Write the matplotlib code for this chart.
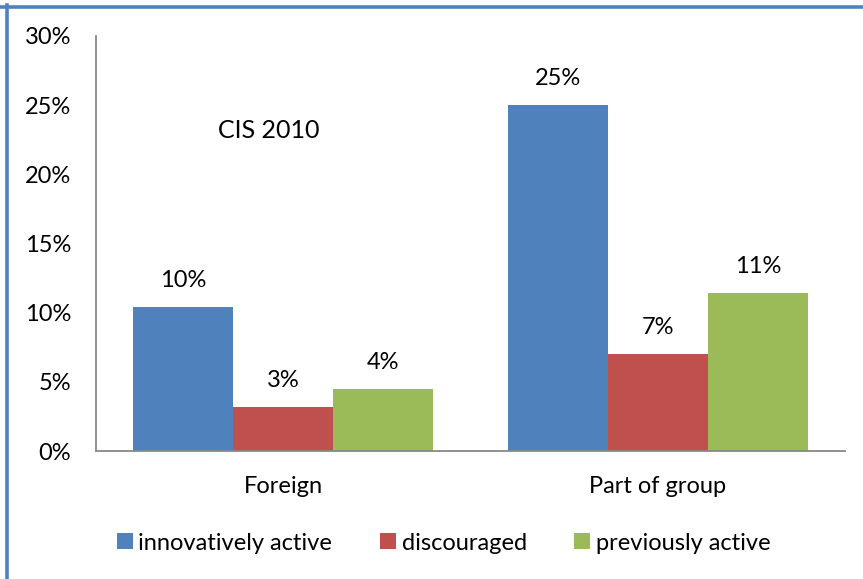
import matplotlib
matplotlib.use("Agg")
import matplotlib.pyplot as plt
from matplotlib.lines import Line2D
from matplotlib.patches import Patch
import numpy as np

plt.rcParams['font.family'] = ['Lato', 'DejaVu Sans']

categories = ["Foreign", "Part of group"]
series_names = ["innovatively active", "discouraged", "previously active"]
innovatively_active = [10.4, 25.0]
discouraged = [3.2, 7.0]
previously_active = [4.5, 11.4]
yticks = [0, 5, 10, 15, 20, 25, 30]
colors = ["#4F81BD", "#C0504D", "#9BBB59"]

W, H = 863, 579
fig = plt.figure(figsize=(W / 100, H / 100), dpi=100)
ax = fig.add_axes([96 / W, (H - 451) / H, (845 - 96) / W, (451 - 36) / H])

x = np.arange(len(categories))
bw = 0.267
for i, (vals, col) in enumerate(zip([innovatively_active, discouraged, previously_active], colors)):
    pos = x + (i - 1) * bw
    ax.bar(pos, vals, width=bw, color=col, edgecolor="none", zorder=2)
    for px, v in zip(pos, vals):
        ax.annotate(f"{v:.0f}%", (px, v), xytext=(0, 14.4), textcoords="offset points",
                    ha="center", va="baseline", fontsize=17, color="black")

ax.set_xlim(-0.5, 1.5)
ax.set_ylim(0, 30)
ax.set_yticks(yticks)
ax.set_yticklabels([f"{t}%" for t in yticks], fontsize=17)
ax.set_xticks(x)
ax.set_xticklabels(categories, fontsize=17)
ax.tick_params(axis="both", length=0)
ax.tick_params(axis="y", pad=18)
ax.tick_params(axis="x", pad=18)
for s in ["top", "right"]:
    ax.spines[s].set_visible(False)
for s in ["left", "bottom"]:
    ax.spines[s].set_color("#888888")
    ax.spines[s].set_linewidth(1.3)

ax.text(-0.04, 23.2, "CIS 2010", ha="center", va="center", fontsize=18)

handles = [Patch(facecolor=c, edgecolor="none") for c in colors]
fig.legend(handles, series_names, loc="center", bbox_to_anchor=(443.5 / W, 1 - 543 / H),
           ncol=3, frameon=False, fontsize=17, handlelength=0.68, handleheight=0.68,
           handletextpad=0.25, columnspacing=2.0)

# frame lines along top and left edges
fig.add_artist(Line2D([0, 1], [1 - 6.5 / H, 1 - 6.5 / H], color="#4F81BD", lw=2.6,
                      transform=fig.transFigure))
fig.add_artist(Line2D([7 / W, 7 / W], [0, 1 - 5 / H], color="#4F81BD", lw=2.6,
                      transform=fig.transFigure))

fig.savefig("out.png", dpi=100)
